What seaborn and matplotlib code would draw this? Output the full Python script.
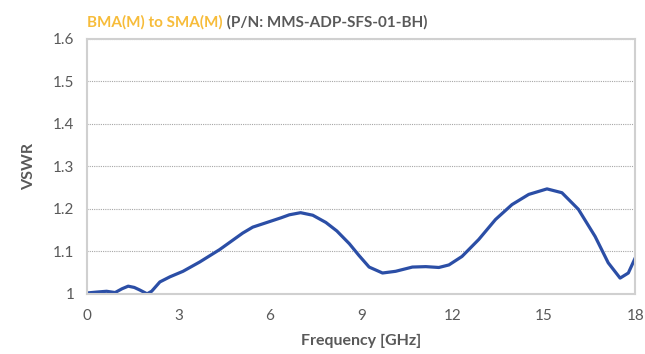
import matplotlib
matplotlib.use("Agg")
import matplotlib.pyplot as plt
import seaborn as sns
import pandas as pd

# VSWR curve
freq_ghz = [0.0, 0.3, 0.64, 0.92, 1.15, 1.35, 1.55, 1.73, 1.97, 2.12, 2.39, 2.72, 3.15,
            3.70, 4.35, 5.11, 5.44, 5.99, 6.37, 6.64, 7.01, 7.41, 7.84, 8.2, 8.61, 8.93,
            9.26, 9.70, 10.13, 10.68, 11.12, 11.55, 11.88, 12.31, 12.86, 13.41, 13.95,
            14.50, 15.10, 15.59, 16.13, 16.68, 17.11, 17.50, 17.77, 18.0]
vswr = [1.002, 1.004, 1.006, 1.003, 1.012, 1.018, 1.015, 1.009, 1.000, 1.006, 1.028, 1.040, 1.053,
        1.075, 1.104, 1.143, 1.157, 1.170, 1.179, 1.186, 1.191, 1.185, 1.168, 1.148, 1.118, 1.090,
        1.063, 1.049, 1.053, 1.063, 1.064, 1.062, 1.068, 1.088, 1.128, 1.175, 1.210,
        1.234, 1.247, 1.238, 1.199, 1.135, 1.073, 1.037, 1.049, 1.085]

x_ticks = [0, 3, 6, 9, 12, 15, 18]
y_ticks = [1.0, 1.1, 1.2, 1.3, 1.4, 1.5, 1.6]
y_tick_labels = ["1", "1.1", "1.2", "1.3", "1.4", "1.5", "1.6"]

title_main = "BMA(M) to SMA(M)"
title_rest = " (P/N: MMS-ADP-SFS-01-BH)"

df = pd.DataFrame({"freq": freq_ghz, "vswr": vswr})

sns.set_style("white")
plt.rcParams["font.family"] = ["Lato", "DejaVu Sans"]

grey = "#595959"
fig = plt.figure(figsize=(6.45, 3.54), dpi=100)
ax = fig.add_axes([0.135, 0.170, 0.850, 0.720])

sns.lineplot(data=df, x="freq", y="vswr", ax=ax, color="#2b4ea6", linewidth=2.3)

ax.set_xlim(0, 18)
ax.set_ylim(1.0, 1.6)
ax.set_xticks(x_ticks)
ax.set_yticks(y_ticks)
ax.set_yticklabels(y_tick_labels)
ax.tick_params(axis="both", labelsize=11, colors=grey, direction="in", length=2, width=1)
ax.tick_params(axis="x", pad=11)
ax.tick_params(axis="y", pad=9)
ax.tick_params(axis="both", color="#222222")
ax.yaxis.grid(True, linestyle=(0, (1, 1)), color="#a6a6a6", linewidth=0.8)
ax.xaxis.grid(False)
for s in ax.spines.values():
    s.set_color("#d0d0d0")
    s.set_linewidth(1.5)

ax.set_xlabel("Frequency [GHz]", fontsize=11.5, fontweight="bold", color=grey, labelpad=8)
ax.set_ylabel("VSWR", fontsize=11.5, fontweight="bold", color=grey, labelpad=12)

t1 = fig.text(0.135, 0.925, title_main, fontsize=11, fontweight="bold", color="#f7bc3a",
              va="baseline")
fig.canvas.draw()
bb = t1.get_window_extent()
x2 = bb.x1 / fig.bbox.width
fig.text(x2, 0.925, title_rest, fontsize=11, fontweight="bold", color=grey, va="baseline")

fig.savefig("out.png", dpi=100)
